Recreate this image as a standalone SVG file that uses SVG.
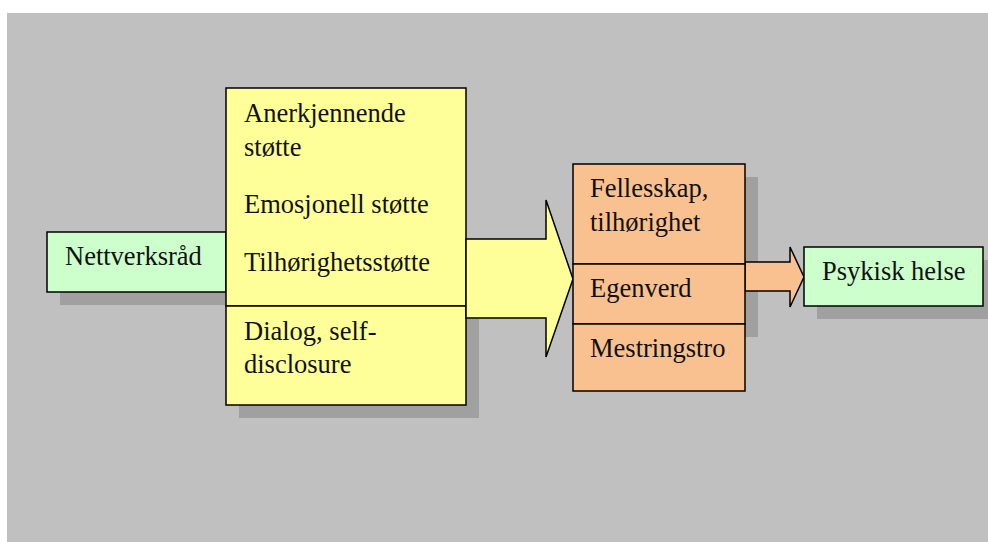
<svg xmlns="http://www.w3.org/2000/svg" width="988" height="542" viewBox="0 0 988 542">
<style>
.bg{fill:#C0C0C0}
.sh{fill:#A0A0A0}
.box{stroke:#000;stroke-width:1.5}
.g{fill:#CCFFCC}
.y{fill:#FFFF99}
.o{fill:#F9C090}
text{font-family:"Liberation Serif","Times New Roman",serif;font-size:26.5px;fill:#111}
</style>
<rect x="0" y="0" width="988" height="542" fill="#FFFFFF"/>
<rect class="bg" x="7" y="13" width="981" height="529"/>
<g id="shadows">
<rect class="sh" x="60" y="245" width="179" height="60"/>
<rect class="sh" x="239" y="319" width="240" height="99"/>
<rect class="sh" x="586" y="177" width="172" height="160"/>
<rect class="sh" x="817" y="260" width="171" height="59"/>
</g>
<g id="nettverksrad">
<rect class="box g" x="47" y="232" width="179" height="60"/>
<text x="65" y="265">Nettverksråd</text>
</g>
<g id="stotte">
<rect class="box y" x="226" y="88" width="240" height="218"/>
<text x="244" y="122">Anerkjennende</text>
<text x="244" y="156">støtte</text>
<text x="244" y="213">Emosjonell støtte</text>
<text x="244" y="271">Tilhørighetsstøtte</text>
</g>
<g id="dialog">
<rect class="box y" x="226" y="306" width="240" height="99"/>
<text x="244" y="340">Dialog, self-</text>
<text x="244" y="373">disclosure</text>
</g>
<g id="connectors">
<polygon class="box y" points="466,239 546,239 546,200 573,279 546,357 546,318 466,318"/>
<polygon class="box o" points="745,262 790,262 790,247 804,277 790,307 790,291 745,291"/>
</g>
<g id="fellesskap">
<rect class="box o" x="573" y="164" width="172" height="100"/>
<text x="590" y="197">Fellesskap,</text>
<text x="590" y="231">tilhørighet</text>
</g>
<g id="egenverd">
<rect class="box o" x="573" y="264" width="172" height="60"/>
<text x="590" y="297">Egenverd</text>
</g>
<g id="mestringstro">
<rect class="box o" x="573" y="324" width="172" height="67"/>
<text x="590" y="357">Mestringstro</text>
</g>
<g id="psykisk-helse">
<rect class="box g" x="804" y="247" width="179" height="59"/>
<text x="822" y="280">Psykisk helse</text>
</g>
</svg>
